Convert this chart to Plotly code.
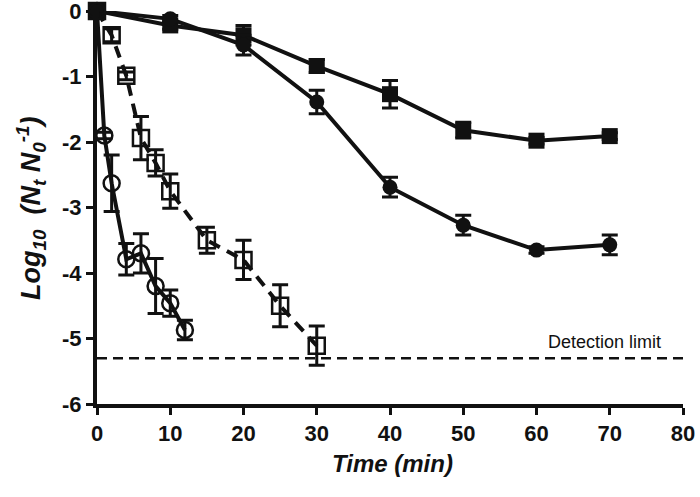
import plotly.graph_objects as go

# ---- data ----
time_long = [0, 10, 20, 30, 40, 50, 60, 70]
filled_sq = [0, -0.22, -0.37, -0.84, -1.27, -1.82, -1.98, -1.91]
filled_sq_err = [0, 0.06, 0.15, 0.10, 0.21, 0.12, 0.05, 0.05]
filled_ci = [0, -0.12, -0.52, -1.39, -2.69, -3.27, -3.65, -3.57]
filled_ci_err = [0, 0.05, 0.15, 0.18, 0.15, 0.15, 0.05, 0.15]

time_os = [0, 2, 4, 6, 8, 10, 15, 20, 25, 30]
open_sq = [0, -0.37, -0.99, -1.94, -2.32, -2.75, -3.50, -3.80, -4.50, -5.11]
open_sq_err = [0, 0.10, 0.06, 0.33, 0.20, 0.26, 0.20, 0.30, 0.32, 0.30]

time_oc = [0, 1, 2, 4, 6, 8, 10, 12]
open_ci = [0, -1.90, -2.63, -3.79, -3.70, -4.20, -4.46, -4.87]
open_ci_err = [0, 0.05, 0.43, 0.24, 0.30, 0.42, 0.20, 0.15]

detection_limit = -5.3
x_ticks = [0, 10, 20, 30, 40, 50, 60, 70, 80]
y_ticks = [0, -1, -2, -3, -4, -5, -6]

BLACK = "#111111"
fig = go.Figure()

# detection limit line
fig.add_trace(go.Scatter(x=[0, 80], y=[detection_limit, detection_limit], mode="lines",
                         line=dict(color=BLACK, width=2.5, dash="10px,6px"),
                         hoverinfo="skip", showlegend=False))

def err(vals):
    return dict(type="data", array=vals, visible=True, color=BLACK, thickness=3, width=8)

fig.add_trace(go.Scatter(x=time_long, y=filled_sq, mode="lines+markers",
                         line=dict(color=BLACK, width=4),
                         marker=dict(symbol="square", size=16, color=BLACK),
                         error_y=err(filled_sq_err), cliponaxis=False, showlegend=False))
fig.add_trace(go.Scatter(x=time_long, y=filled_ci, mode="lines+markers",
                         line=dict(color=BLACK, width=4),
                         marker=dict(symbol="circle", size=15, color=BLACK),
                         error_y=err(filled_ci_err), cliponaxis=False, showlegend=False))
fig.add_trace(go.Scatter(x=time_os, y=open_sq, mode="lines+markers",
                         line=dict(color=BLACK, width=4, dash="12px,8px"),
                         marker=dict(symbol="square-open", size=16, color=BLACK,
                                     line=dict(width=2.5, color=BLACK)),
                         error_y=err(open_sq_err), cliponaxis=False, showlegend=False))
fig.add_trace(go.Scatter(x=time_oc, y=open_ci, mode="lines+markers",
                         line=dict(color=BLACK, width=4),
                         marker=dict(symbol="circle-open", size=16, color=BLACK,
                                     line=dict(width=2.5, color=BLACK)),
                         error_y=err(open_ci_err), cliponaxis=False, showlegend=False))

tickfont = dict(family="Liberation Sans", size=22, color=BLACK)

fig.update_layout(
    width=700, height=497,
    margin=dict(l=97, r=17, t=11, b=93, autoexpand=False),
    paper_bgcolor="white", plot_bgcolor="white",
    font=dict(family="Liberation Sans", color=BLACK),
    xaxis=dict(range=[0, 80], tickvals=x_ticks, ticktext=["<b>%d</b>" % v for v in x_ticks],
               showgrid=False, zeroline=False, showline=True, linecolor=BLACK, linewidth=4,
               ticks="outside", ticklen=7, tickwidth=3, tickcolor=BLACK,
               tickfont=tickfont, ticklabeloverflow="allow", automargin=False),
    yaxis=dict(range=[-6, 0], tickvals=y_ticks, ticktext=["<b>%d</b>" % v for v in y_ticks],
               showgrid=False, zeroline=False, showline=True, linecolor=BLACK, linewidth=4,
               ticks="outside", ticklen=7, tickwidth=3, tickcolor=BLACK,
               tickfont=tickfont, ticklabeloverflow="allow", automargin=False),
    annotations=[
        dict(text="<b><i>Time (min)</i></b>", xref="paper", yref="paper",
             x=(392 - 97) / 586, y=-(463 - 404) / 393, showarrow=False,
             font=dict(size=24, color=BLACK), xanchor="center", yanchor="middle"),
        dict(text="<b><i>Log<sub>10</sub>&nbsp; (N<sub>t</sub> N<sub>0</sub><sup>-1</sup>)</i></b>",
             xref="paper", yref="paper", x=(31 - 97) / 586, y=(404 - 208) / 393,
             showarrow=False, textangle=-90,
             font=dict(size=27, color=BLACK), xanchor="center", yanchor="middle"),
        dict(text="Detection limit", xref="x", yref="y", x=69.3, y=-5.06,
             showarrow=False, font=dict(size=18, color=BLACK),
             xanchor="center", yanchor="middle"),
    ],
)

# remove the browser's default 8px body margin so the figure sits at the page origin
fig.write_html("out.html", config={"displayModeBar": False},
               post_script="document.body.style.margin='0';")
